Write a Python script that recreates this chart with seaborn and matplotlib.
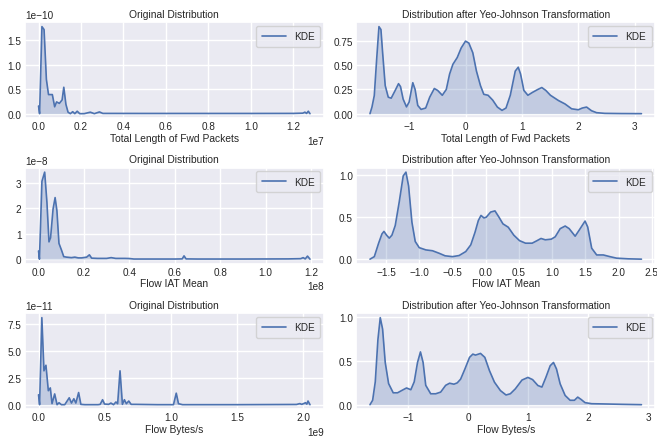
"""
Original vs Yeo-Johnson transformed feature densities (3 features).
KDE curves are read off the reference figure and drawn as line + fill.
"""
import numpy as np
import matplotlib
matplotlib.use("Agg")
import matplotlib.pyplot as plt
from matplotlib.ticker import MultipleLocator
import seaborn as sns

LINE_COLOR = "#4c72b0"

FEATURES = ["Total Length of Fwd Packets", "Flow IAT Mean", "Flow Bytes/s"]

# --- original distributions (x in units of x_scale, density in units of y_scale)
fwd_len_x = [0.0, 0.005, 0.016, 0.026, 0.037, 0.047, 0.065, 0.076, 0.085, 0.098,
             0.111, 0.119, 0.129, 0.139, 0.15, 0.161, 0.171, 0.182, 0.194, 0.215,
             0.244, 0.263, 0.287, 0.303, 0.5, 0.8, 1.0, 1.2, 1.245, 1.255, 1.263,
             1.271, 1.279]
fwd_len_y = [0.156, 0.0, 1.78, 1.72, 0.70, 0.39, 0.39, 0.14, 0.24, 0.21,
             0.28, 0.54, 0.19, 0.03, 0.0, 0.04, 0.0, 0.05, 0.0, 0.0,
             0.03, 0.0, 0.035, 0.005, 0.004, 0.004, 0.004, 0.005, 0.01, 0.03, 0.005,
             0.05, 0.0]

iat_x = [0.0, 0.004, 0.015, 0.027, 0.037, 0.046, 0.053, 0.064, 0.073, 0.081,
         0.09, 0.101, 0.111, 0.123, 0.145, 0.16, 0.175, 0.19, 0.212, 0.224,
         0.234, 0.26, 0.3, 0.32, 0.34, 0.38, 0.4, 0.42, 0.6, 0.633, 0.641, 0.65,
         0.7, 0.9, 1.1, 1.155, 1.166, 1.175, 1.185, 1.196]
iat_y = [0.32, 0.0, 3.06, 3.42, 2.23, 0.68, 0.84, 1.97, 2.42, 1.9,
         0.62, 0.36, 0.10, 0.08, 0.06, 0.08, 0.05, 0.05, 0.08, 0.17,
         0.04, 0.03, 0.03, 0.06, 0.03, 0.03, 0.025, 0.005, 0.005, 0.01, 0.13, 0.01,
         0.005, 0.005, 0.01, 0.02, 0.06, 0.01, 0.12, 0.0]

bytes_x = [0.0, 0.008, 0.025, 0.041, 0.056, 0.074, 0.089, 0.102, 0.122, 0.14,
           0.155, 0.173, 0.198, 0.232, 0.249, 0.267, 0.282, 0.303, 0.32, 0.351,
           0.45, 0.466, 0.484, 0.499, 0.53, 0.547, 0.567, 0.585, 0.598, 0.616,
           0.634, 0.649, 0.664, 0.682, 0.70, 0.733, 0.9, 1.02, 1.041, 1.058,
           1.089, 1.5, 1.95, 1.975, 1.99, 2.018, 2.028, 2.037, 2.052]
bytes_y = [0.92, 0.0, 8.1, 3.15, 3.67, 1.3, 1.56, 0.1, 1.0, 0.0,
           0.18, 0.0, 0.0, 0.64, 0.15, 0.55, 0.15, 1.13, 0.03, 0.0,
           0.0, 0.03, 0.46, 0.06, 0.03, 0.15, 0.0, 0.25, 0.09, 3.15,
           0.03, 0.46, 0.09, 0.34, 0.03, 0.03, 0.0, 0.0, 1.07, 0.09,
           0.0, 0.0, 0.02, 0.1, 0.03, 0.18, 0.05, 0.34, 0.0]

orig_x_scale = [1e7, 1e8, 1e9]
orig_y_scale = [1e-10, 1e-8, 1e-11]
orig_y_step = [0.5, 1.0, 2.5]

# --- after Yeo-Johnson
yj_fwd_x = [-1.694, -1.659, -1.618, -1.576, -1.535, -1.5, -1.47, -1.424, -1.37, -1.318,
            -1.247, -1.188, -1.153, -1.106, -1.047, -1.0, -0.935, -0.894, -0.847, -0.788,
            -0.706, -0.635, -0.553, -0.494, -0.412, -0.341, -0.282, -0.224, -0.147, -0.076,
            0.0, 0.059, 0.129, 0.194, 0.265, 0.324, 0.4, 0.482, 0.565, 0.647,
            0.718, 0.794, 0.882, 0.935, 0.976, 1.035, 1.106, 1.188, 1.282, 1.353,
            1.424, 1.506, 1.647, 1.765, 1.882, 2.0, 2.071, 2.147, 2.235, 2.324,
            2.47, 2.76, 3.12]
yj_fwd_y = [0.0, 0.068, 0.187, 0.56, 0.90, 0.87, 0.63, 0.29, 0.17, 0.16,
            0.24, 0.31, 0.28, 0.15, 0.07, 0.12, 0.32, 0.25, 0.085, 0.044,
            0.058, 0.17, 0.26, 0.24, 0.19, 0.25, 0.41, 0.51, 0.58, 0.68,
            0.75, 0.73, 0.63, 0.44, 0.29, 0.20, 0.19, 0.14, 0.068, 0.034,
            0.058, 0.19, 0.44, 0.48, 0.41, 0.24, 0.19, 0.22, 0.25, 0.27,
            0.24, 0.19, 0.136, 0.10, 0.05, 0.04, 0.058, 0.068, 0.03, 0.01,
            0.003, 0.001, 0.0]

yj_iat_x = [-1.741, -1.676, -1.611, -1.561, -1.531, -1.491, -1.451, -1.411, -1.361, -1.301,
            -1.241, -1.2, -1.16, -1.11, -1.06, -1.0, -0.9, -0.8, -0.7, -0.611,
            -0.5, -0.4, -0.3, -0.224, -0.16, -0.11, -0.07, -0.025, 0.01, 0.075,
            0.14, 0.2, 0.26, 0.34, 0.424, 0.51, 0.6, 0.7, 0.773, 0.833,
            0.898, 0.988, 1.047, 1.122, 1.197, 1.257, 1.347, 1.407, 1.496, 1.536,
            1.596, 1.671, 1.771, 1.87, 1.97, 2.145, 2.345]
yj_iat_y = [0.0, 0.03, 0.19, 0.30, 0.33, 0.285, 0.25, 0.285, 0.40, 0.68,
            0.99, 1.035, 0.87, 0.44, 0.21, 0.137, 0.11, 0.10, 0.07, 0.04,
            0.03, 0.043, 0.09, 0.17, 0.32, 0.46, 0.52, 0.49, 0.50, 0.56,
            0.574, 0.50, 0.42, 0.38, 0.285, 0.22, 0.19, 0.19, 0.22, 0.246,
            0.23, 0.238, 0.266, 0.363, 0.394, 0.363, 0.273, 0.344, 0.453, 0.383,
            0.13, 0.05, 0.05, 0.03, 0.012, 0.004, 0.0]

yj_bytes_x = [-1.637, -1.593, -1.549, -1.505, -1.466, -1.427, -1.383, -1.327, -1.25, -1.178,
              -1.084, -1.028, -0.956, -0.9, -0.845, -0.796, -0.752, -0.708, -0.625, -0.542,
              -0.459, -0.376, -0.31, -0.238, -0.183, -0.127, -0.055, 0.022, 0.077, 0.122,
              0.205, 0.277, 0.354, 0.437, 0.537, 0.63, 0.702, 0.785, 0.896, 0.995,
              1.073, 1.161, 1.228, 1.294, 1.366, 1.421, 1.471, 1.532, 1.615, 1.698,
              1.77, 1.825, 1.88, 1.947, 2.058, 2.279, 2.555, 2.887]
yj_bytes_y = [0.0, 0.05, 0.26, 0.74, 0.99, 0.86, 0.48, 0.24, 0.135, 0.135,
              0.17, 0.19, 0.17, 0.26, 0.48, 0.60, 0.48, 0.22, 0.124, 0.124,
              0.143, 0.22, 0.244, 0.233, 0.248, 0.29, 0.406, 0.538, 0.575, 0.564,
              0.583, 0.538, 0.387, 0.256, 0.16, 0.11, 0.124, 0.18, 0.28, 0.31,
              0.285, 0.218, 0.2, 0.31, 0.443, 0.48, 0.406, 0.237, 0.105, 0.05,
              0.05, 0.086, 0.06, 0.023, 0.011, 0.008, 0.004, 0.0]

yj_y_step = [0.25, 0.5, 0.5]

orig_curves = [(fwd_len_x, fwd_len_y), (iat_x, iat_y), (bytes_x, bytes_y)]
yj_curves = [(yj_fwd_x, yj_fwd_y), (yj_iat_x, yj_iat_y), (yj_bytes_x, yj_bytes_y)]

TEXT_SIZE = 7.4
TICK_SIZE = 7.2


def draw_kde(ax, x, y, title, xlabel, ystep):
    x = np.asarray(x)
    y = np.asarray(y)
    sns.lineplot(x=x, y=y, ax=ax, color=LINE_COLOR, linewidth=1.2, label="KDE")
    ax.fill_between(x, y, color=LINE_COLOR, alpha=0.25, linewidth=0)
    ax.yaxis.set_major_locator(MultipleLocator(ystep))
    ax.set_title(title, fontsize=TEXT_SIZE, pad=4)
    ax.set_xlabel(xlabel, fontsize=TEXT_SIZE, labelpad=1)
    ax.set_ylabel("")
    ax.tick_params(labelsize=TICK_SIZE, pad=2.5, length=0)
    ax.xaxis.get_offset_text().set_fontsize(TICK_SIZE)
    ax.yaxis.get_offset_text().set_fontsize(TICK_SIZE)
    leg = ax.legend(loc="upper right", fontsize=TICK_SIZE, frameon=True,
                    handlelength=2.4, borderpad=0.55, borderaxespad=0.35)
    leg.get_frame().set_edgecolor("#cccccc")
    leg.get_frame().set_facecolor("#eaeaf2")


sns.set_theme(style="darkgrid")
plt.rcParams["font.family"] = ["Liberation Sans", "DejaVu Sans"]

fig, axes = plt.subplots(3, 2, figsize=(6.57, 4.39), dpi=100)
fig.subplots_adjust(left=0.038, right=0.997, top=0.947, bottom=0.066,
                    wspace=0.11, hspace=0.52)

for i, feat in enumerate(FEATURES):
    ox, oy = orig_curves[i]
    ox = np.array(ox) * orig_x_scale[i]
    oy = np.array(oy) * orig_y_scale[i]
    draw_kde(axes[i, 0], ox, oy, "Original Distribution", feat,
             orig_y_step[i] * orig_y_scale[i])

    tx, ty = yj_curves[i]
    draw_kde(axes[i, 1], tx, ty, "Distribution after Yeo-Johnson Transformation", feat,
             yj_y_step[i])

plt.savefig("out.png", dpi=100)
plt.close()
